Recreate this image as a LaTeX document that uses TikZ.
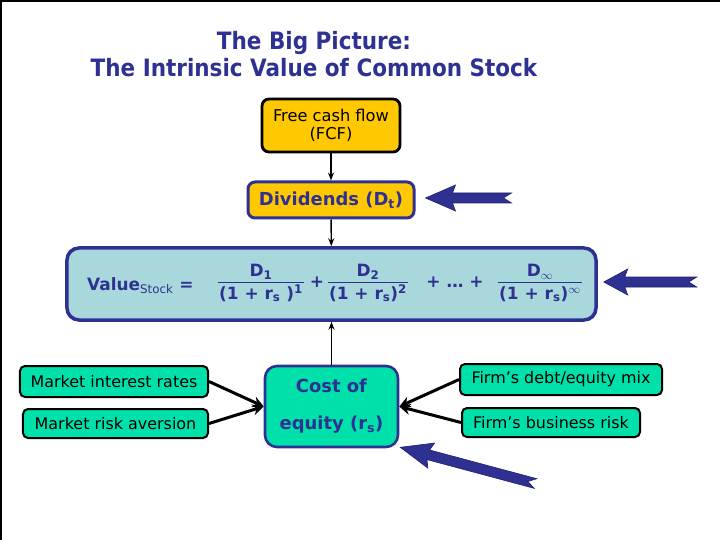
\documentclass[tikz,border=0pt]{standalone}
\usepackage{fontspec}
\setmainfont{DejaVu Sans}
\newfontfamily\ttlfont[FakeStretch=0.9]{DejaVu Sans}
\usetikzlibrary{positioning,arrows.meta,calc}
\definecolor{navy}{HTML}{2E3192}
\definecolor{gold}{HTML}{FFC800}
\definecolor{pale}{HTML}{A8D8DC}
\definecolor{mint}{HTML}{00E0AA}
\setlength{\arrayrulewidth}{1.8bp}
\newcommand{\vfrac}[2]{\begin{tabular}{@{\hspace{1bp}}c@{\hspace{1bp}}}#1\\[-1bp]\hline\rule{0pt}{16bp}#2\end{tabular}}
\tikzset{
  ttl/.style={font=\ttlfont\bfseries\fontsize{24}{27}\selectfont, text=navy, align=center},
  gbox/.style={draw=black, line width=2.8bp, fill=gold, rounded corners=7bp, inner sep=0pt, align=center, font=\fontsize{16.3}{18}\selectfont},
  nbox/.style={draw=navy, line width=3bp, inner sep=0pt, align=center, text=navy, font=\bfseries\fontsize{18}{20}\selectfont},
  fbox/.style={draw=black, line width=2bp, fill=mint, rounded corners=5bp, inner sep=0pt, font=\fontsize{16}{18}\selectfont},
  fml/.style={text=navy, inner sep=0pt, font=\bfseries\fontsize{17}{20}\selectfont},
  link/.style={-{Stealth[length=8bp,width=6bp]}, line width=1.4bp},
  feed/.style={-{Stealth[length=11bp,width=11bp]}, line width=3bp},
  pics/bigarrow/.style 2 args={code={
    \fill[navy, draw=navy!70!black, line width=.6bp] (0,0) -- (#2,-13) -- (#2-3,-5) -- (#1,-5)
      -- (#1-8,0) -- (#1,5) -- (#2-3,5) -- (#2,13) -- cycle;}}}

\begin{document}
\begin{tikzpicture}[x=1bp, y=-1bp]
\useasboundingbox (0,0) rectangle (720,540);
\draw[line width=2bp] (1,540) -- (1,1) -- (720,1);

\node[ttl] (title) at (314,54) {The Big Picture:\\The Intrinsic Value of Common Stock};

% top chain
\node[gbox, minimum width=138bp, minimum height=53bp] (fcf) at (331,125.5) {Free cash flow\\(FCF)};
\node[nbox, fill=gold, rounded corners=7bp, minimum width=166bp, minimum height=36bp] (div) at (331,200) {Dividends (D\textsubscript{t})};
\node[nbox, fill=pale, line width=3.5bp, rounded corners=12bp, minimum width=529bp, minimum height=72bp] (val) at (331.5,284) {};

% the formula
\node[fml, anchor=west] (vlab) at (87,286) {Value\textsubscript{\mdseries Stock}\hspace{6bp}=};
\node[fml] (f1) at (261,284) {\vfrac{D\textsubscript{1}}{(1 + r\textsubscript{s} )\textsuperscript{1}}};
\node[fml] (p1) at (317,282) {+};
\node[fml] (f2) at (368,284) {\vfrac{D\textsubscript{2}}{(1 + r\textsubscript{s})\textsuperscript{2}}};
\node[fml] (dots) at (455,282) {+ \dots{} +};
\node[fml] (f3) at (540,284) {\vfrac{D\textsubscript{\ensuremath{\infty}}}{(1 + r\textsubscript{s})\textsuperscript{\ensuremath{\infty}}}};

% cost of equity and its drivers
\node[nbox, fill=mint, line width=2.6bp, rounded corners=12bp, minimum width=133bp, minimum height=81bp] (coe) at (331.5,406.5) {Cost of\\[17bp]equity (r\textsubscript{s})};
\node[fbox, minimum width=188bp, minimum height=31bp] (mir) at (114,381.5) {Market interest rates};
\node[fbox, minimum width=185bp, minimum height=29bp] (mra) at (115.5,423.5) {Market risk aversion};
\node[fbox, minimum width=202bp, minimum height=31bp] (dem) at (561,379.5) {Firm’s debt/equity mix};
\node[fbox, minimum width=178bp, minimum height=29bp] (fbr) at (551,422.5) {Firm’s business risk};

\draw[link] (fcf) -- (div);
\draw[link] (div) -- (val);
\draw[link] (coe) -- (val);
\draw[feed] (mir.east) -- (coe.west);
\draw[feed] (mra.east) -- (coe.west);
\draw[feed] (dem.west) -- (coe.east);
\draw[feed] (fbr.west) -- (coe.east);

% blue pointers
\pic at ($(div.east)+(10,-2)$) {bigarrow={86}{30}};
\pic at ($(val.east)+(6,-2)$) {bigarrow={93}{24}};
\pic[rotate=-15] at ($(coe.south east)+(1,-1)$) {bigarrow={140}{32}};
\end{tikzpicture}
\end{document}
